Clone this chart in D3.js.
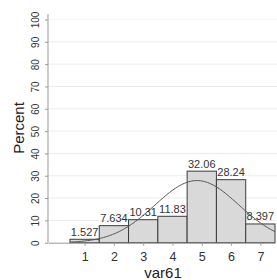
<!DOCTYPE html>
<html><head><meta charset="utf-8">
<script src="https://cdn.jsdelivr.net/npm/d3@7"></script>
<style>body{margin:0;background:#fff}svg{display:block;font-family:"Liberation Sans",Arial,sans-serif}</style>
</head><body><svg id="c" width="277" height="280"></svg>
<script>
const categories = [1, 2, 3, 4, 5, 6, 7];
const percents = [1.527, 7.634, 10.31, 11.83, 32.06, 28.24, 8.397];
const barLabels = ["1.527", "7.634", "10.31", "11.83", "32.06", "28.24", "8.397"];
const yTicks = [0, 10, 20, 30, 40, 50, 60, 70, 80, 90, 100];
const xTicks = [1, 2, 3, 4, 5, 6, 7];
const xTitle = "var61", yTitle = "Percent";

const svg = d3.select("#c");
const x = d3.scaleLinear().domain([-0.25, 7.5]).range([48, 275]);
const y = d3.scaleLinear().domain([0, 100]).range([242.7, 19.5]);

// gridlines
svg.append("g").selectAll("line").data(yTicks.filter(d => d > 0)).join("line")
  .attr("x1", 48).attr("x2", 277).attr("y1", d => y(d)).attr("y2", d => y(d))
  .attr("stroke", d => d === 100 ? "#f6f6f6" : "#ececec").attr("stroke-width", 1);

// bars
svg.append("g").selectAll("rect").data(categories).join("rect")
  .attr("x", (d) => x(d - 0.5)).attr("width", (d) => x(d + 0.5) - x(d - 0.5))
  .attr("y", (d, i) => y(percents[i])).attr("height", (d, i) => y(0) - y(percents[i]))
  .attr("fill", "#d9d9d9").attr("stroke", "#3c3c3c").attr("stroke-width", 1);

// normal density overlay derived from the distribution
const total = d3.sum(percents);
const mean = d3.sum(categories, (c, i) => c * percents[i]) / total;
const sd = Math.sqrt(d3.sum(categories, (c, i) => (c - mean) ** 2 * percents[i]) / total);
const curveX = d3.range(0.5, 7.5001, 0.05);
const line = d3.line().x(d => x(d)).y(d => y(100 / (sd * Math.sqrt(2 * Math.PI)) * Math.exp(-0.5 * ((d - mean) / sd) ** 2)));
svg.append("path").datum(curveX).attr("d", line).attr("fill", "none").attr("stroke", "#555").attr("stroke-width", 1);

// bar labels
svg.append("g").selectAll("text").data(categories).join("text")
  .attr("x", d => x(d)).attr("y", (d, i) => y(percents[i]) - 3.5)
  .attr("text-anchor", "middle").attr("font-size", 11).attr("fill", "#333")
  .text((d, i) => barLabels[i]);

// y axis
const ya = svg.append("g").attr("transform", "translate(48,0)")
  .call(d3.axisLeft(y).tickValues(yTicks).tickSize(3).tickSizeOuter(0));
ya.select(".domain").attr("stroke", "#999").attr("d", "M0,14V" + y(0));
ya.selectAll(".tick line").attr("stroke", "#999");
ya.selectAll(".tick text").attr("font-size", 10).attr("fill", "#333")
  .attr("transform", "rotate(-90)").attr("x", 0).attr("dy", 0)
  .attr("text-anchor", "middle").attr("y", -9);

// x axis
const xa = svg.append("g").attr("transform", `translate(0,${y(0)})`)
  .call(d3.axisBottom(x).tickValues(xTicks).tickSize(3).tickSizeOuter(0));
xa.select(".domain").attr("stroke", "#999");
xa.selectAll(".tick line").attr("stroke", "#999");
xa.selectAll(".tick text").attr("font-size", 12.5).attr("fill", "#333").attr("y", 9.5).attr("dy", "0.71em");

// titles
svg.append("text").attr("x", 163).attr("y", 277.5).attr("text-anchor", "middle")
  .attr("font-size", 15).attr("fill", "#222").text(xTitle);
svg.append("text").attr("transform", "translate(23.5,128) rotate(-90)").attr("text-anchor", "middle")
  .attr("font-size", 15).attr("fill", "#222").text(yTitle);
</script></body></html>
